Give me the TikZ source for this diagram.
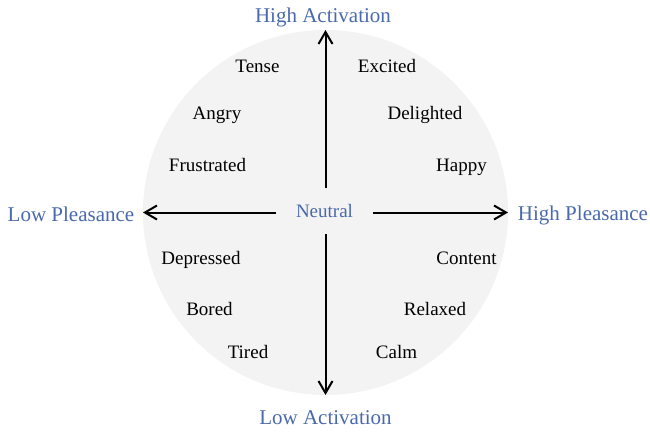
\documentclass[tikz,border=0pt]{standalone}
\usepackage{fontspec}
\setmainfont{Liberation Serif}
\usetikzlibrary{arrows.meta}
\definecolor{axisblue}{HTML}{4A69AC}
\definecolor{circlegray}{HTML}{F3F3F3}
\begin{document}
\begin{tikzpicture}[x=1pt,y=-1pt,
  emo/.style={font=\fontsize{19}{22}\selectfont, anchor=base, inner sep=0pt, text=black},
  axislabel/.style={font=\fontsize{21}{24}\selectfont, anchor=base, inner sep=0pt, text=axisblue},
  neutrallabel/.style={font=\fontsize{19}{22}\selectfont, anchor=base, inner sep=0pt, text=axisblue},
  axisarrow/.style={line width=2pt, -{Straight Barb[length=12pt,width=14pt,line width=2pt]}}]
\useasboundingbox (0,0) rectangle (650,431);
\fill[circlegray] (325.5,212.5) circle[radius=182.5pt];

% axis labels
\node[axislabel] (hiact) at (323,22) {High Activation};
\node[axislabel] (loact) at (325.5,424.5) {Low Activation};
\node[axislabel] (lopl) at (71,221) {Low Pleasance};
\node[axislabel] (hipl) at (583,220.5) {High Pleasance};
\node[neutrallabel] (neutral) at (324.5,217.3) {Neutral};

% emotions
\node[emo] (tense) at (257.5,72.3) {Tense};
\node[emo] (excited) at (387,72.3) {Excited};
\node[emo] (angry) at (217,119.5) {Angry};
\node[emo] (delighted) at (425,119) {Delighted};
\node[emo] (frustrated) at (207.5,171.3) {Frustrated};
\node[emo] (happy) at (461.5,171.3) {Happy};
\node[emo] (depressed) at (201,264.3) {Depressed};
\node[emo] (content) at (466.5,264.3) {Content};
\node[emo] (bored) at (209.5,315.3) {Bored};
\node[emo] (relaxed) at (435,315.3) {Relaxed};
\node[emo] (tired) at (248,358.8) {Tired};
\node[emo] (calm) at (396.5,358.8) {Calm};

% arrow end points
\coordinate (upstart) at (325.5,188);
\coordinate (uptip) at (325.5,30);
\coordinate (downstart) at (325.5,234);
\coordinate (downtip) at (325.5,395);
\coordinate (leftstart) at (276,212.5);
\coordinate (lefttip) at (143,212.5);
\coordinate (rightstart) at (373,212.5);
\coordinate (righttip) at (508,212.5);

\draw[axisarrow] (upstart) -- (uptip);
\draw[axisarrow] (downstart) -- (downtip);
\draw[axisarrow] (leftstart) -- (lefttip);
\draw[axisarrow] (rightstart) -- (righttip);
\end{tikzpicture}
\end{document}
